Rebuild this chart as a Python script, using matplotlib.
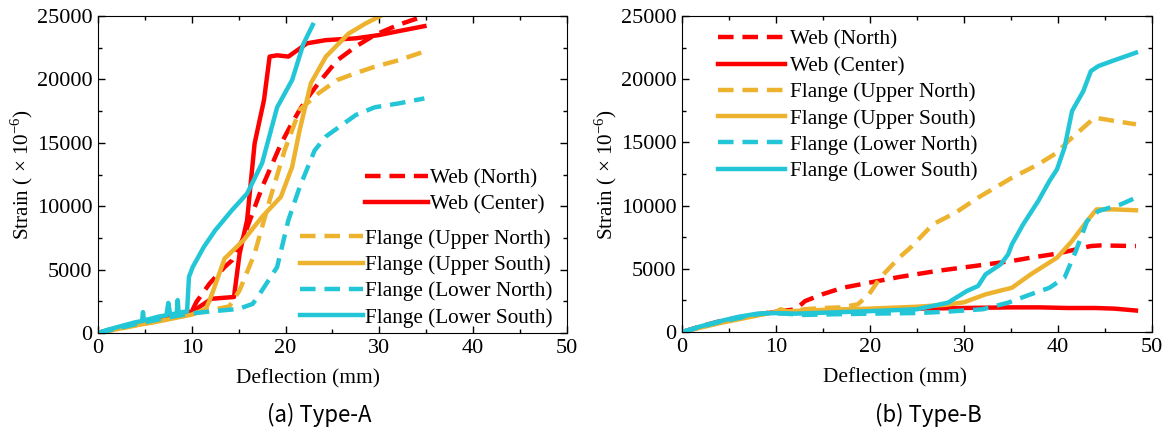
import matplotlib
matplotlib.use("Agg")
import matplotlib.pyplot as plt
from matplotlib.ticker import MultipleLocator

plt.rcParams['font.family'] = 'Liberation Serif'
plt.rcParams['mathtext.fontset'] = 'custom'
plt.rcParams['mathtext.rm'] = 'Liberation Serif'

RED = '#ff0000'
GOLD = '#edb22e'
CYAN = '#22c6d6'

labels = ['Web (North)', 'Web (Center)', 'Flange (Upper North)',
          'Flange (Upper South)', 'Flange (Lower North)', 'Flange (Lower South)']

# ---- Type-A ----
wn_a_x = [0, 2, 4, 6, 8, 10, 10.5, 11.9, 13.5, 14.3, 15.5, 16.7, 17.5, 18.5, 19.5, 20.5,
          21.5, 22.5, 23.5, 25.5, 27.5, 29.5, 32, 34.8]
wn_a_y = [0, 400, 750, 1100, 1400, 1700, 2450, 3900, 5200, 5740, 7500, 9900, 11500, 13200,
          14900, 16300, 17600, 18700, 19700, 21500, 22600, 23500, 24300, 25000]

wc_a_x = [0, 2, 4, 6, 8, 10, 10.5, 12.1, 14.5, 15.1, 15.9, 16.7, 17.7, 18.3, 19.1, 20.3,
          22.3, 24.3, 27.5, 30, 32, 34.8]
wc_a_y = [0, 400, 750, 1100, 1400, 1700, 1900, 2700, 2840, 6260, 8900, 14950, 18370, 21800,
          21900, 21800, 22850, 23100, 23240, 23500, 23800, 24200]

un_a_x = [0, 2, 4, 6, 8, 10, 12, 14, 15.1, 16.7, 18.3, 19.9, 21.5, 23.5, 25.5, 27.5, 29.5,
          32, 34.8]
un_a_y = [0, 300, 600, 900, 1200, 1500, 1800, 2100, 3370, 6260, 10470, 14400, 17600, 18900,
          19950, 20500, 21000, 21500, 22200]

us_a_x = [0, 2, 4, 6, 8, 10, 11.5, 11.9, 12.3, 13.5, 15.5, 17.5, 19.5, 20.7, 21.5, 22.7,
          24.3, 26.7, 28.5, 30.1]
us_a_y = [0, 300, 600, 850, 1150, 1450, 1900, 2580, 3370, 5870, 7300, 9160, 10740, 13100,
          16000, 19700, 21800, 23600, 24400, 25000]

ln_a_x = [0, 2, 4, 6, 8, 10, 12, 15, 16.5, 17.5, 19.1, 20.3, 21.5, 23.1, 24.3, 27.5, 29.5,
          32, 34.8]
ln_a_y = [0, 350, 700, 1000, 1300, 1550, 1700, 1900, 2300, 3370, 5200, 8900, 11500, 14400,
          15500, 17200, 17800, 18100, 18500]

ls_a_x = [0, 1, 2, 3, 4, 4.7, 4.8, 4.9, 5.5, 6, 6.5, 7.3, 7.5, 7.7, 8, 8.4, 8.5, 8.6, 9,
          9.5, 9.7, 10.1, 11.3, 12.5, 14.3, 15.9, 17.5, 19.1, 20.7, 21.9, 22.9]
ls_a_y = [0, 250, 450, 650, 850, 950, 1650, 1000, 1100, 1200, 1300, 1400, 2370, 1450, 1500,
          1550, 2600, 1580, 1650, 1700, 4420, 5200, 6800, 8100, 9700, 11000, 13400, 17800,
          19950, 22800, 24300]

# ---- Type-B ----
wn_b_x = [0, 2, 4, 6, 8, 10, 12.1, 13.1, 15, 17.1, 19.9, 23.1, 27.1, 31.1, 35.1, 37.1,
          39.9, 43.5, 44.5, 48.3]
wn_b_y = [0, 450, 850, 1150, 1400, 1600, 1800, 2450, 3000, 3500, 3900, 4350, 4830, 5220,
          5620, 5880, 6200, 6800, 6850, 6800]

wc_b_x = [0, 2, 4, 6, 8, 10, 15, 20, 25, 30, 35, 38, 41, 44, 46, 48.3]
wc_b_y = [0, 400, 800, 1100, 1350, 1600, 1700, 1800, 1850, 1900, 1950, 1950, 1900, 1900,
          1850, 1700]

un_b_x = [0, 2, 4, 6, 8, 10, 10.5, 11.5, 13, 15, 17, 18.7, 19.9, 21.1, 23.1, 24.3, 26.7,
          29.1, 31.5, 35.1, 37.9, 39.9, 41.1, 43.9, 46, 48.3]
un_b_y = [0, 400, 800, 1100, 1400, 1600, 1800, 1550, 1800, 1900, 1950, 2190, 2980, 4300,
          5880, 6670, 8520, 9440, 10630, 12200, 13260, 14190, 15110, 16960, 16700, 16430]

us_b_x = [0, 2, 4, 6, 8, 10, 15, 20, 25, 28, 30, 32.3, 35.1, 37.1, 39.9, 41.5, 43.1, 44.1,
          46, 48.3]
us_b_y = [0, 350, 700, 1000, 1300, 1600, 1750, 1850, 2000, 2150, 2350, 2980, 3500, 4560,
          5880, 7200, 8780, 9700, 9700, 9630]

ln_b_x = [0, 2, 4, 6, 8, 9, 11, 13, 16, 20, 25, 28, 30, 32, 34.7, 37.1, 39.1, 40.7, 41.9,
          43.1, 44.3, 46.7, 48.3]
ln_b_y = [0, 400, 800, 1100, 1400, 1500, 1450, 1350, 1400, 1450, 1500, 1600, 1700, 1800,
          2320, 2980, 3500, 4300, 6400, 8780, 9570, 10100, 10630]

ls_b_x = [0, 2, 4, 6, 8, 10, 12, 16, 20, 25, 28.3, 30.3, 31.5, 32.3, 33.9, 34.7, 35.1,
          36.3, 37.9, 39.1, 39.9, 40.7, 41.5, 42.7, 43.5, 44.3, 46, 48.3]
ls_b_y = [0, 450, 850, 1200, 1450, 1500, 1450, 1550, 1650, 1800, 2320, 3240, 3640, 4560,
          5350, 6140, 6930, 8520, 10360, 11950, 12870, 14580, 17480, 19060, 20640, 21040,
          21500, 22100]

styles = [(RED, (0, (3.5, 2))), (RED, '-'), (GOLD, (0, (3.5, 2))), (GOLD, '-'),
          (CYAN, (0, (3.5, 2))), (CYAN, '-')]

series_a = [(wn_a_x, wn_a_y), (wc_a_x, wc_a_y), (un_a_x, un_a_y),
            (us_a_x, us_a_y), (ln_a_x, ln_a_y), (ls_a_x, ls_a_y)]
series_b = [(wn_b_x, wn_b_y), (wc_b_x, wc_b_y), (un_b_x, un_b_y),
            (us_b_x, us_b_y), (ln_b_x, ln_b_y), (ls_b_x, ls_b_y)]

fig = plt.figure(figsize=(11.69, 4.34), dpi=100)
ax_a = fig.add_axes([0.0838, 0.2327, 0.4012, 0.7304])
ax_b = fig.add_axes([0.5834, 0.2350, 0.4020, 0.7281])


def style_axes(ax, xlabel_x):
    ax.set_xlim(0, 50)
    ax.set_ylim(0, 25000)
    ax.xaxis.set_major_locator(MultipleLocator(10))
    ax.xaxis.set_minor_locator(MultipleLocator(5))
    ax.yaxis.set_major_locator(MultipleLocator(5000))
    ax.yaxis.set_minor_locator(MultipleLocator(2500))
    ax.tick_params(which='both', direction='in', top=True, right=True, labelsize=16)
    ax.tick_params(which='major', length=5, width=1, pad=4)
    ax.tick_params(which='minor', length=3, width=1)
    ax.set_xlabel('Deflection (mm)', fontsize=15.4)
    ax.xaxis.set_label_coords(xlabel_x, -0.115)
    ax.set_ylabel('Strain ( × 10$^{-6}$)', fontsize=15.2, labelpad=1)


lines_a = []
for (x, y), (c, ls), lab in zip(series_a, styles, labels):
    ln, = ax_a.plot(x, y, color=c, linestyle=ls, lw=3.2, label=lab)
    lines_a.append(ln)
lines_b = []
for (x, y), (c, ls), lab in zip(series_b, styles, labels):
    ln, = ax_b.plot(x, y, color=c, linestyle=ls, lw=3.2, label=lab)
    lines_b.append(ln)

style_axes(ax_a, 0.448)
style_axes(ax_b, 0.453)

leg_kw = dict(frameon=False, fontsize=15.3, handlelength=2.95, handletextpad=0.12,
              labelspacing=0.3, borderpad=0, borderaxespad=0, loc='upper left')
leg1 = ax_a.legend(lines_a[:2], labels[:2], bbox_to_anchor=(0.569, 0.52), **leg_kw)
ax_a.add_artist(leg1)
ax_a.legend(lines_a[2:], labels[2:], bbox_to_anchor=(0.431, 0.328), **leg_kw)

leg_kw_b = dict(leg_kw)
leg_kw_b['handlelength'] = 3.15
leg_kw_b['handletextpad'] = 0.25
ax_b.legend(lines_b, labels, bbox_to_anchor=(0.077, 0.956), **leg_kw_b)

fig.text(0.273, 0.045, '(a) Type-A', ha='center', va='center', fontsize=16,
         family=['Noto Sans CJK JP', 'DejaVu Sans'])
fig.text(0.794, 0.045, '(b) Type-B', ha='center', va='center', fontsize=16,
         family=['Noto Sans CJK JP', 'DejaVu Sans'])

fig.savefig('out.png', dpi=100)
